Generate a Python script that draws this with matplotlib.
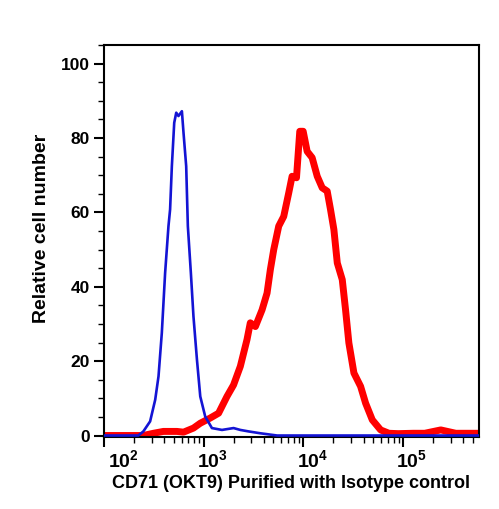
import matplotlib
matplotlib.use("Agg")
import matplotlib.pyplot as plt
import matplotlib.transforms as mtransforms
from matplotlib.ticker import LogLocator, FixedLocator, MultipleLocator, NullFormatter

plt.rcParams['font.family'] = ['Liberation Sans', 'DejaVu Sans']
plt.rcParams['font.weight'] = 'bold'
plt.rcParams['mathtext.fontset'] = 'custom'
plt.rcParams['mathtext.rm'] = 'Liberation Sans:bold'
plt.rcParams['mathtext.it'] = 'Liberation Sans:bold'
plt.rcParams['mathtext.bf'] = 'Liberation Sans:bold'

# Isotype control (blue) - fluorescence intensity vs relative cell number
iso_x = [100, 221, 248, 290, 326, 352, 380, 410, 443, 460, 479, 506, 530, 558, 604,
         627, 667, 693, 743, 789, 855, 923, 1035, 1208, 1524, 1991, 2328, 2818, 3698,
         5445, 575000]
iso_y = [0, 0, 1.1, 3.8, 9.6, 15.9, 27.6, 43.7, 56.3, 60.8, 72.4, 84.1, 86.8, 85.9, 87.2,
         81.4, 72.4, 56.3, 43.7, 32.0, 20.4, 10.5, 5.1, 2.0, 1.5, 2.0, 1.5, 1.1, 0.6,
         0, 0]

# CD71 (OKT9) stained (red)
cd71_x = [100, 247, 313, 394, 538, 627, 789, 923, 1162, 1409, 1710, 1991, 2328, 2716,
          2931, 3296, 3846, 4315, 4656, 5035, 5649, 6339, 7112, 7691, 8511, 9183, 9931,
          10889, 12218, 13738, 15417, 17298, 18664, 20180, 21827, 24490, 26424, 28524,
          32060, 37410, 41970, 48980, 59380, 71950, 89000, 126000, 164400, 238000,
          337000, 575000]
cd71_y = [0, 0, 0.6, 1.1, 1.1, 0.9, 2.0, 3.3, 4.7, 6.0, 10.5, 13.6, 18.6, 25.8,
          30.3, 29.3, 33.8, 38.3, 44.6, 50.0, 56.3, 58.9, 65.2, 69.7, 69.3, 81.8, 81.8,
          76.4, 74.7, 69.7, 66.6, 65.7, 60.8, 55.4, 46.4, 41.9, 33.8, 24.9,
          16.8, 13.2, 8.7, 4.2, 1.5, 0.6, 0.5, 0.6, 0.6, 1.5,
          0.6, 0.6]

x_major = [1e2, 1e3, 1e4, 1e5]
x_labels = [r'$10^{2}$', r'$10^{3}$', r'$10^{4}$', r'$10^{5}$']
y_major = [0, 20, 40, 60, 80, 100]

fig = plt.figure(figsize=(4.99, 5.09), dpi=100)
ax = fig.add_axes([104 / 499, 1 - 437 / 509, 375 / 499, 392 / 509])

ax.plot(cd71_x, cd71_y, color='#ff0000', lw=5.0, zorder=2)
ax.plot(iso_x, iso_y, color='#1414d4', lw=1.9, zorder=3)

ax.set_xscale('log')
ax.set_xlim(100, 10 ** 5.76)
ax.set_ylim(-0.4, 105)

ax.xaxis.set_major_locator(FixedLocator(x_major))
ax.set_xticklabels(x_labels, fontsize=14, ha='left')
ax.xaxis.set_minor_locator(LogLocator(base=10, subs=range(2, 10), numticks=20))
ax.xaxis.set_minor_formatter(NullFormatter())

ax.yaxis.set_major_locator(FixedLocator(y_major))
ax.yaxis.set_minor_locator(MultipleLocator(5))
ax.set_yticklabels([str(v) for v in y_major], fontsize=12.5)

ax.tick_params(axis='both', which='major', direction='out', length=7, width=1.5, pad=1.5)
ax.tick_params(axis='both', which='minor', direction='out', length=4, width=1)
ax.tick_params(axis='y', which='major', pad=3)

for s in ax.spines.values():
    s.set_linewidth(1.5)

# shift x tick labels like the original export
for i, lab in enumerate(ax.get_xticklabels()):
    dx = 3 / 72 if i == 0 else -5 / 72
    lab.set_transform(lab.get_transform() + mtransforms.ScaledTranslation(dx, 0, fig.dpi_scale_trans))

ax.set_xlabel('CD71 (OKT9) Purified with Isotype control', fontsize=13, fontweight='bold', labelpad=3)
ax.set_ylabel('Relative cell number', fontsize=14, fontweight='bold')
ax.yaxis.set_label_coords(-0.145, 0.533)

fig.savefig('out.png', dpi=100)
